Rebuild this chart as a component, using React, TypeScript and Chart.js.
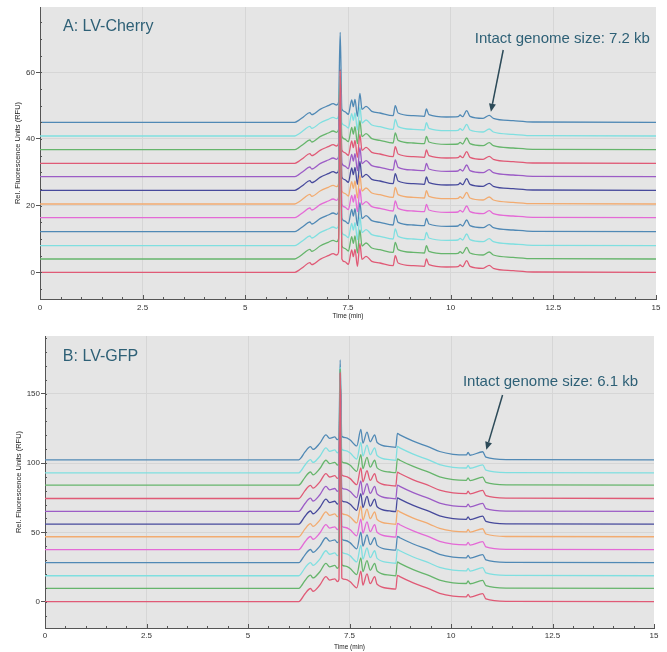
import React, { useEffect, useRef } from "react";
import { Chart, registerables } from "chart.js";

Chart.register(...registerables);
Chart.defaults.font.family = "'Liberation Sans', Arial, sans-serif";

// ---------- shared ----------
const X_TICKS = [0, 2.5, 5, 7.5, 10, 12.5, 15];
const TRACE_COLORS = [
  "#e05a76", "#66b56c", "#7fdfe0", "#5089b5", "#e46ad6", "#f2ab70",
  "#474a9c", "#9c5cc6", "#e05a76", "#66b56c", "#7fdfe0", "#5089b5",
];

// ---------- Panel A: LV-Cherry ----------
const TIME_A = [0, 6.2, 6.3, 6.42, 6.57, 6.62, 6.82, 7.02, 7.14, 7.22, 7.27, 7.31, 7.35, 7.42, 7.51, 7.59, 7.63, 7.67, 7.73, 7.79, 7.84, 7.94, 8.08, 8.28, 8.6, 8.65, 8.72, 9.09, 9.36, 9.41, 9.47, 9.9, 10.18, 10.23, 10.29, 10.39, 10.47, 10.79, 10.94, 11.04, 11.52, 12.0, 15];
const PROFILE_A = [0, 0, 0.6, 1.7, 2.9, 2.3, 3.9, 5.0, 5.6, 5.2, 6.0, 0, 4.0, 3.2, 2.4, 6.7, 4.7, 6.9, 1.8, 8.7, 3.9, 4.8, 3.3, 2.8, 2.0, 5.0, 2.8, 2.0, 1.8, 4.0, 2.3, 1.6, 1.7, 2.2, 1.7, 3.5, 1.8, 1.2, 2.1, 1.2, 0.5, 0.1, 0];
const SPIKE_TIME_A = 7.31;
const BASELINES_A = [0, 4.0, 8.0, 12.2, 16.4, 20.5, 24.6, 28.7, 32.7, 36.8, 40.9, 45.0];
const SPIKES_A = [60, 55, 52, 48, 43, 40, 36, 32, 28, 24, 19, 27];
const Y_TICKS_A = [0, 20, 40, 60];

// ---------- Panel B: LV-GFP ----------
const TIME_B = [0, 6.25, 6.3, 6.4, 6.54, 6.6, 6.77, 6.92, 7.01, 7.14, 7.2, 7.24, 7.27, 7.31, 7.4, 7.51, 7.68, 7.78, 7.83, 7.93, 8.01, 8.12, 8.18, 8.49, 8.64, 8.68, 8.74, 9.07, 9.48, 9.72, 10.05, 10.38, 10.42, 10.47, 10.78, 10.86, 11.37, 15];
const PROFILE_B = [0, 0, 1.2, 5.5, 9.5, 7.5, 12, 18, 15.5, 16.5, 14.5, 16, 0, 17, 16, 14.5, 10, 22, 12, 20, 13, 18, 12.5, 9.5, 9, 19, 18, 13.5, 9, 6, 4, 3.5, 5.3, 3.3, 5.8, 2, 0.2, 0];
const SPIKE_TIME_B = 7.27;
const BASELINES_B = [0, 9.6, 18.7, 28.1, 37.5, 46.8, 55.9, 65.1, 74.4, 84.0, 92.9, 102.3];
const SPIKES_B = [165, 158, 150, 140, 128, 120, 110, 100, 92, 82, 75, 72];
const Y_TICKS_B = [0, 50, 100, 150];

const TEXT_COLOR = "#2e6076";
const ARROW_COLOR = "#2c4a58";
const GRID = "#d6d6d6";
const AXIS = "#555";

function buildDatasets(times: number[], profile: number[], spikeTime: number, baselines: number[], spikes: number[]) {
  const si = times.indexOf(spikeTime);
  return baselines.map((b, i) => ({
    label: `Trace ${i + 1}`,
    data: times.map((t, j) => ({ x: t, y: b + (j === si ? spikes[i] : profile[j]) })),
    borderColor: TRACE_COLORS[i],
    borderWidth: 1.3,
    pointRadius: 0,
    fill: false,
    cubicInterpolationMode: "monotone" as const,
  }));
}

const panelPlugin = {
  id: "panel",
  beforeDraw(chart: any) {
    const { ctx, chartArea: a } = chart;
    ctx.save();
    ctx.fillStyle = "#ffffff";
    ctx.fillRect(0, 0, chart.width, chart.height);
    ctx.fillStyle = "#e5e5e5";
    ctx.fillRect(a.left, a.top, a.right - a.left, a.bottom - a.top);
    ctx.restore();
  },
  afterDraw(chart: any, _args: any, opts: any) {
    const { ctx, chartArea: a } = chart;
    const xs = chart.scales.x;
    const ys = chart.scales.y;
    ctx.save();
    ctx.strokeStyle = AXIS;
    ctx.lineWidth = 1;
    // x ticks (inside)
    for (let v = 0; v <= 15.001; v += 0.5) {
      const px = Math.round(xs.getPixelForValue(v)) + 0.5;
      const major = Math.abs(v / 2.5 - Math.round(v / 2.5)) < 1e-6;
      ctx.beginPath();
      ctx.moveTo(px, a.bottom);
      ctx.lineTo(px, a.bottom - (major ? 4 : 2));
      ctx.stroke();
    }
    // y minor ticks (inside)
    for (let v = opts.yMinorStart; v <= ys.max; v += opts.yMinor) {
      const py = Math.round(ys.getPixelForValue(v)) + 0.5;
      ctx.beginPath();
      ctx.moveTo(a.left, py);
      ctx.lineTo(a.left + 2, py);
      ctx.stroke();
    }
    // panel label
    ctx.fillStyle = TEXT_COLOR;
    ctx.font = "16px 'Liberation Sans', Arial, sans-serif";
    ctx.textBaseline = "middle";
    ctx.textAlign = "left";
    ctx.fillText(opts.label, xs.getPixelForValue(opts.labelAt[0]), ys.getPixelForValue(opts.labelAt[1]));
    ctx.font = "15px 'Liberation Sans', Arial, sans-serif";
    ctx.textAlign = "center";
    ctx.fillText(opts.note, xs.getPixelForValue(opts.noteAt[0]), ys.getPixelForValue(opts.noteAt[1]));
    // arrow
    const x1 = xs.getPixelForValue(opts.arrowFrom[0]);
    const y1 = ys.getPixelForValue(opts.arrowFrom[1]);
    const x2 = xs.getPixelForValue(opts.arrowTo[0]);
    const y2 = ys.getPixelForValue(opts.arrowTo[1]);
    const ang = Math.atan2(y2 - y1, x2 - x1);
    const hl = 8, hw = 3.5;
    const bx = x2 - hl * Math.cos(ang);
    const by = y2 - hl * Math.sin(ang);
    ctx.strokeStyle = ARROW_COLOR;
    ctx.fillStyle = ARROW_COLOR;
    ctx.lineWidth = 1.5;
    ctx.beginPath();
    ctx.moveTo(x1, y1);
    ctx.lineTo(bx, by);
    ctx.stroke();
    ctx.beginPath();
    ctx.moveTo(x2, y2);
    ctx.lineTo(bx + hw * Math.sin(ang), by - hw * Math.cos(ang));
    ctx.lineTo(bx - hw * Math.sin(ang), by + hw * Math.cos(ang));
    ctx.closePath();
    ctx.fill();
    ctx.restore();
  },
};

function makeConfig(p: any) {
  return {
    type: "line" as const,
    data: { datasets: p.datasets },
    plugins: [panelPlugin],
    options: {
      responsive: false,
      animation: false as const,
      devicePixelRatio: 1,
      layout: { padding: { left: 0, right: p.padRight, top: p.padTop, bottom: 0 } },
      plugins: {
        legend: { display: false },
        tooltip: { enabled: false },
        panel: p.panel,
      },
      scales: {
        x: {
          type: "linear" as const,
          min: 0,
          max: 15,
          afterBuildTicks: (s: any) => { s.ticks = X_TICKS.map((v) => ({ value: v })); },
          afterFit: (s: any) => { s.height = p.xAxisHeight; },
          grid: {
            color: (c: any) => (c.tick && (c.tick.value === 0 || c.tick.value === 15) ? "rgba(0,0,0,0)" : GRID),
            drawTicks: false,
          },
          border: { color: AXIS, width: 1 },
          ticks: { font: { size: 8 }, color: "#333", padding: p.xTickPad, autoSkip: false, maxRotation: 0, callback: (v: any) => String(v) },
          title: { display: true, text: "Time (min)", font: { size: 6.5 }, color: "#222", padding: { top: 0, bottom: p.xTitlePad } },
        },
        y: {
          type: "linear" as const,
          min: p.yMin,
          max: p.yMax,
          afterBuildTicks: (s: any) => { s.ticks = p.yTicks.map((v: number) => ({ value: v })); },
          afterFit: (s: any) => { s.width = p.yAxisWidth; },
          grid: { color: GRID, drawTicks: true, tickLength: 4, tickColor: AXIS },
          border: { color: AXIS, width: 1 },
          ticks: { font: { size: 8 }, color: "#333", padding: 1, callback: (v: any) => String(v) },
          title: { display: true, text: "Rel. Fluorescence Units (RFU)", font: { size: 7.5 }, color: "#222", padding: { top: p.yTitlePad, bottom: 0 } },
        },
      },
    },
  };
}

export default function App() {
  const refA = useRef<HTMLCanvasElement>(null);
  const refB = useRef<HTMLCanvasElement>(null);

  useEffect(() => {
    const chartA = new Chart(refA.current as HTMLCanvasElement, makeConfig({
      datasets: buildDatasets(TIME_A, PROFILE_A, SPIKE_TIME_A, BASELINES_A, SPIKES_A),
      padRight: 11, padTop: 7, xAxisHeight: 23, yAxisWidth: 40,
      xTickPad: 3.5, xTitlePad: 1.8, yTitlePad: 13.5,
      yMin: -8, yMax: 79.6, yTicks: Y_TICKS_A,
      panel: {
        yMinor: 5, yMinorStart: -5,
        label: "A: LV-Cherry", labelAt: [0.56, 73.6],
        note: "Intact genome size: 7.2 kb", noteAt: [12.72, 69.9],
        arrowFrom: [11.28, 66.7], arrowTo: [10.98, 48.2],
      },
    }) as any);
    const chartB = new Chart(refB.current as HTMLCanvasElement, makeConfig({
      datasets: buildDatasets(TIME_B, PROFILE_B, SPIKE_TIME_B, BASELINES_B, SPIKES_B),
      padRight: 13, padTop: 14, xAxisHeight: 24, yAxisWidth: 45,
      xTickPad: 3, xTitlePad: 1.2, yTitlePad: 14.5,
      yMin: -19, yMax: 191.6, yTicks: Y_TICKS_B,
      panel: {
        yMinor: 10, yMinorStart: -10,
        label: "B: LV-GFP", labelAt: [0.44, 176.7],
        note: "Intact genome size: 6.1 kb", noteAt: [12.45, 158.7],
        arrowFrom: [11.27, 149.1], arrowTo: [10.87, 109.5],
      },
    }) as any);
    return () => {
      chartA.destroy();
      chartB.destroy();
    };
  }, []);

  return (
    <div style={{ position: "absolute", left: 0, top: 0, width: 667, height: 652, background: "#fff" }}>
      <canvas ref={refA} width={667} height={322} style={{ position: "absolute", left: 0, top: 0, width: 667, height: 322 }} />
      <canvas ref={refB} width={667} height={330} style={{ position: "absolute", left: 0, top: 322, width: 667, height: 330 }} />
    </div>
  );
}
